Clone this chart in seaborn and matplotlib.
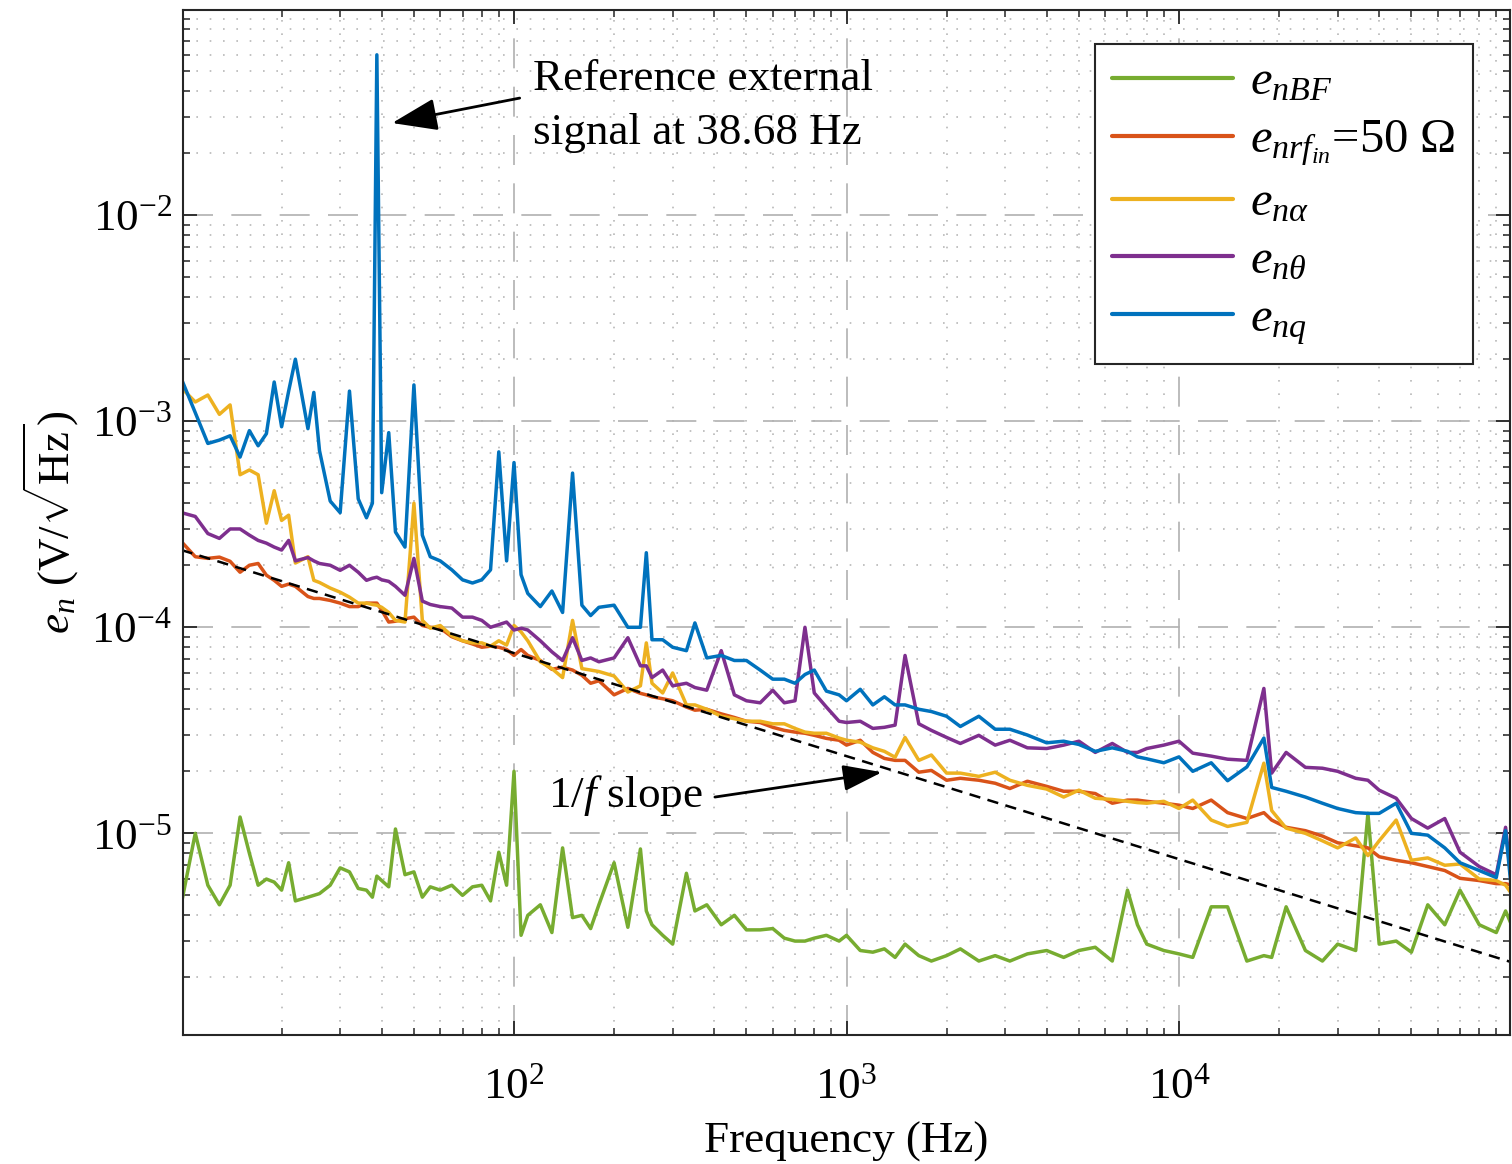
import numpy as np
import pandas as pd
import matplotlib
matplotlib.use('Agg')
import matplotlib.pyplot as plt
import seaborn as sns
from matplotlib.ticker import NullFormatter

# frequency grid (Hz)
freq = [10, 11, 12, 13, 14, 15, 16, 17, 18, 19,
        20, 21, 22, 24, 25, 26, 28, 30, 32, 34,
        36, 37.5, 38.68, 40, 42, 44, 47, 50, 53, 56,
        60, 65, 70, 75, 80, 85, 90, 95, 100, 105,
        110, 120, 130, 140, 150, 160, 170, 180, 200, 220,
        240, 250, 260, 280, 300, 330, 350, 380, 420, 460,
        500, 550, 600, 650, 700, 750, 800, 870, 950, 1000,
        1100, 1200, 1300, 1400, 1500, 1650, 1800, 2000, 2200, 2500,
        2800, 3100, 3500, 4000, 4500, 5000, 5600, 6300, 7000, 7500,
        8000, 9000, 10000, 11000, 12500, 14000, 16000, 18000, 19000, 21000,
        24000, 27000, 30000, 34000, 37000, 40000, 45000, 50000, 56000, 63000,
        70000, 80000, 90000, 96000, 100000]

# noise spectral densities (V/sqrt(Hz))
e_nBF = [4.6e-6, 1.0e-5, 5.6e-6, 4.5e-6, 5.6e-6, 1.2e-5, 8.0e-6, 5.6e-6, 6.0e-6, 5.8e-6,
         5.3e-6, 7.2e-6, 4.7e-6, 4.9e-6, 5.0e-6, 5.1e-6, 5.6e-6, 6.8e-6, 6.5e-6, 5.4e-6,
         5.3e-6, 4.9e-6, 6.2e-6, 5.9e-6, 5.5e-6, 1.05e-5, 6.3e-6, 6.5e-6, 4.9e-6, 5.5e-6,
         5.3e-6, 5.6e-6, 5.0e-6, 5.5e-6, 5.6e-6, 4.7e-6, 8.1e-6, 5.6e-6, 2.0e-5, 3.2e-6,
         4.0e-6, 4.5e-6, 3.3e-6, 8.5e-6, 3.9e-6, 4.0e-6, 3.45e-6, 4.5e-6, 7.2e-6, 3.5e-6,
         8.4e-6, 4.2e-6, 3.6e-6, 3.2e-6, 2.9e-6, 6.4e-6, 4.2e-6, 4.5e-6, 3.6e-6, 4.0e-6,
         3.4e-6, 3.4e-6, 3.45e-6, 3.1e-6, 3.0e-6, 3.0e-6, 3.1e-6, 3.2e-6, 3.0e-6, 3.2e-6,
         2.7e-6, 2.65e-6, 2.75e-6, 2.5e-6, 2.9e-6, 2.55e-6, 2.4e-6, 2.55e-6, 2.75e-6, 2.4e-6,
         2.55e-6, 2.4e-6, 2.6e-6, 2.7e-6, 2.5e-6, 2.7e-6, 2.8e-6, 2.4e-6, 5.3e-6, 3.6e-6,
         2.9e-6, 2.7e-6, 2.6e-6, 2.5e-6, 4.4e-6, 4.4e-6, 2.4e-6, 2.55e-6, 2.5e-6, 4.4e-6,
         2.7e-6, 2.4e-6, 2.9e-6, 2.7e-6, 1.25e-5, 2.9e-6, 3.0e-6, 2.65e-6, 4.5e-6, 3.6e-6,
         5.3e-6, 3.6e-6, 3.3e-6, 4.2e-6, 3.6e-6]

e_nrf = [2.6e-4, 2.2e-4, 2.16e-4, 2.19e-4, 2.09e-4, 1.85e-4, 2.0e-4, 2.04e-4, 1.79e-4, 1.69e-4,
         1.58e-4, 1.62e-4, 1.58e-4, 1.41e-4, 1.38e-4, 1.38e-4, 1.35e-4, 1.31e-4, 1.26e-4, 1.26e-4,
         1.31e-4, 1.31e-4, 1.31e-4, 1.21e-4, 1.06e-4, 1.07e-4, 1.1e-4, 1.12e-4, 1.02e-4, 1.0e-4,
         9.9e-5, 9.0e-5, 8.6e-5, 8.3e-5, 8.0e-5, 8.1e-5, 8.0e-5, 7.8e-5, 7.3e-5, 7.8e-5,
         7.3e-5, 6.9e-5, 6.25e-5, 6.4e-5, 6.2e-5, 5.85e-5, 5.35e-5, 5.5e-5, 4.7e-5, 5.05e-5,
         4.78e-5, 4.7e-5, 4.6e-5, 4.5e-5, 4.4e-5, 4.1e-5, 3.96e-5, 4.0e-5, 3.8e-5, 3.65e-5,
         3.5e-5, 3.45e-5, 3.27e-5, 3.16e-5, 3.1e-5, 3.06e-5, 2.99e-5, 2.89e-5, 2.83e-5, 2.68e-5,
         2.83e-5, 2.47e-5, 2.31e-5, 2.26e-5, 2.26e-5, 1.98e-5, 2.02e-5, 1.81e-5, 1.85e-5, 1.81e-5,
         1.75e-5, 1.65e-5, 1.79e-5, 1.69e-5, 1.6e-5, 1.6e-5, 1.56e-5, 1.4e-5, 1.45e-5, 1.45e-5,
         1.43e-5, 1.4e-5, 1.37e-5, 1.32e-5, 1.45e-5, 1.26e-5, 1.18e-5, 1.26e-5, 1.16e-5, 1.07e-5,
         1.03e-5, 9.7e-6, 9.0e-6, 8.7e-6, 8.5e-6, 7.7e-6, 7.4e-6, 7.2e-6, 6.9e-6, 6.6e-6,
         6.05e-6, 5.9e-6, 5.7e-6, 5.7e-6, 5.6e-6]

e_nalpha = [1.45e-3, 1.24e-3, 1.34e-3, 1.08e-3, 1.2e-3, 5.5e-4, 5.8e-4, 5.5e-4, 3.2e-4, 4.6e-4,
            3.3e-4, 3.5e-4, 2.05e-4, 2.2e-4, 1.69e-4, 1.65e-4, 1.55e-4, 1.48e-4, 1.4e-4, 1.31e-4,
            1.31e-4, 1.29e-4, 1.28e-4, 1.25e-4, 1.18e-4, 1.08e-4, 1.06e-4, 4.0e-4, 1.08e-4, 9.9e-5,
            1.02e-4, 9.1e-5, 8.6e-5, 8.4e-5, 8.4e-5, 8.1e-5, 8.6e-5, 8.2e-5, 1.02e-4, 9.5e-5,
            8.6e-5, 6.8e-5, 6.3e-5, 5.7e-5, 1.08e-4, 6.3e-5, 6.2e-5, 6.1e-5, 5.8e-5, 4.85e-5,
            5.2e-5, 8.4e-5, 5.35e-5, 4.8e-5, 6.0e-5, 4.2e-5, 4.2e-5, 4.0e-5, 3.7e-5, 3.6e-5,
            3.5e-5, 3.5e-5, 3.4e-5, 3.4e-5, 3.23e-5, 3.1e-5, 3.06e-5, 3.06e-5, 2.9e-5, 2.83e-5,
            2.77e-5, 2.6e-5, 2.5e-5, 2.34e-5, 2.92e-5, 2.26e-5, 2.4e-5, 1.96e-5, 1.96e-5, 1.89e-5,
            1.98e-5, 1.81e-5, 1.71e-5, 1.64e-5, 1.5e-5, 1.62e-5, 1.48e-5, 1.46e-5, 1.43e-5, 1.41e-5,
            1.4e-5, 1.43e-5, 1.32e-5, 1.45e-5, 1.16e-5, 1.08e-5, 1.13e-5, 2.19e-5, 1.29e-5, 1.06e-5,
            1.0e-5, 9.2e-6, 8.5e-6, 9.5e-6, 7.8e-6, 9.2e-6, 1.16e-5, 7.4e-6, 7.6e-6, 7.0e-6,
            7.1e-6, 6.0e-6, 5.9e-6, 5.6e-6, 5.1e-6]

e_ntheta = [3.6e-4, 3.45e-4, 2.85e-4, 2.7e-4, 3.0e-4, 3.0e-4, 2.8e-4, 2.64e-4, 2.56e-4, 2.45e-4,
            2.37e-4, 2.64e-4, 2.1e-4, 2.18e-4, 2.1e-4, 2.04e-4, 2.0e-4, 1.89e-4, 2.0e-4, 1.85e-4,
            1.69e-4, 1.73e-4, 1.75e-4, 1.7e-4, 1.67e-4, 1.58e-4, 1.43e-4, 2.16e-4, 1.34e-4, 1.29e-4,
            1.26e-4, 1.24e-4, 1.12e-4, 1.12e-4, 1.08e-4, 1.0e-4, 1.03e-4, 1.06e-4, 9.7e-5, 9.9e-5,
            9.7e-5, 8.6e-5, 7.6e-5, 6.9e-5, 8.9e-5, 6.9e-5, 7.1e-5, 6.8e-5, 7.1e-5, 8.9e-5,
            6.5e-5, 6.5e-5, 5.7e-5, 6.2e-5, 5.2e-5, 5.35e-5, 5.1e-5, 4.95e-5, 7.7e-5, 4.7e-5,
            4.4e-5, 4.3e-5, 4.95e-5, 4.3e-5, 4.4e-5, 1.0e-4, 4.8e-5, 4.1e-5, 3.5e-5, 3.45e-5,
            3.5e-5, 3.23e-5, 3.27e-5, 3.35e-5, 7.3e-5, 3.4e-5, 3.16e-5, 2.92e-5, 2.73e-5, 2.99e-5,
            2.68e-5, 2.83e-5, 2.6e-5, 2.58e-5, 2.68e-5, 2.8e-5, 2.47e-5, 2.73e-5, 2.47e-5, 2.47e-5,
            2.58e-5, 2.68e-5, 2.8e-5, 2.45e-5, 2.37e-5, 2.29e-5, 2.26e-5, 5.05e-5, 1.96e-5, 2.47e-5,
            2.09e-5, 2.07e-5, 2.0e-5, 1.85e-5, 1.81e-5, 1.62e-5, 1.48e-5, 1.18e-5, 1.06e-5, 1.18e-5,
            8.1e-6, 6.9e-6, 6.3e-6, 1.07e-5, 5.7e-6]

e_nq = [1.6e-3, 1.1e-3, 7.8e-4, 8.1e-4, 8.5e-4, 6.7e-4, 9.0e-4, 7.6e-4, 8.7e-4, 1.55e-3,
        9.4e-4, 1.4e-3, 2.0e-3, 9.2e-4, 1.38e-3, 7.2e-4, 4.1e-4, 3.6e-4, 1.4e-3, 4.2e-4,
        3.4e-4, 4.0e-4, 6.0e-2, 4.5e-4, 8.8e-4, 2.9e-4, 2.45e-4, 1.5e-3, 2.8e-4, 2.2e-4,
        2.1e-4, 1.9e-4, 1.7e-4, 1.64e-4, 1.7e-4, 1.9e-4, 7.1e-4, 2.1e-4, 6.3e-4, 1.8e-4,
        1.46e-4, 1.26e-4, 1.5e-4, 1.18e-4, 5.6e-4, 1.28e-4, 1.14e-4, 1.25e-4, 1.28e-4, 1.0e-4,
        1.0e-4, 2.3e-4, 8.7e-5, 8.7e-5, 8.0e-5, 7.7e-5, 1.05e-4, 7.1e-5, 7.3e-5, 6.9e-5,
        6.9e-5, 6.2e-5, 5.6e-5, 5.6e-5, 5.35e-5, 5.9e-5, 6.2e-5, 4.9e-5, 4.7e-5, 4.4e-5,
        5.0e-5, 4.2e-5, 4.6e-5, 4.2e-5, 4.2e-5, 4.0e-5, 3.9e-5, 3.7e-5, 3.3e-5, 3.7e-5,
        3.2e-5, 3.2e-5, 3.0e-5, 2.75e-5, 2.8e-5, 2.7e-5, 2.5e-5, 2.6e-5, 2.5e-5, 2.35e-5,
        2.3e-5, 2.2e-5, 2.35e-5, 2.0e-5, 2.2e-5, 1.8e-5, 2.1e-5, 2.9e-5, 1.67e-5, 1.6e-5,
        1.5e-5, 1.4e-5, 1.32e-5, 1.26e-5, 1.25e-5, 1.25e-5, 1.4e-5, 1.0e-5, 9.8e-6, 8.5e-6,
        7.2e-6, 6.6e-6, 6.1e-6, 1.03e-5, 5.3e-6]

# 1/f reference line end points
slope_f = [10, 1e5]
slope_v = [2.37e-4, 2.37e-6]

labels = [r'$e_{nBF}$', r'$e_{nrf_{in}}$=50 Ω', r'$e_{n\alpha}$', r'$e_{n\theta}$', r'$e_{nq}$']
colors = ['#77AC30', '#D95319', '#EDB120', '#7E2F8E', '#0072BD']
series = [e_nBF, e_nrf, e_nalpha, e_ntheta, e_nq]

df = pd.concat([pd.DataFrame({'f': freq, 'en': s, 'name': lab}) for s, lab in zip(series, labels)],
               ignore_index=True)

sns.set_style('ticks')
plt.rcParams['font.family'] = ['Liberation Serif', 'DejaVu Serif']
plt.rcParams['mathtext.fontset'] = 'custom'
plt.rcParams['mathtext.rm'] = 'Liberation Serif'
plt.rcParams['mathtext.it'] = 'Liberation Serif:italic'
plt.rcParams['mathtext.bf'] = 'Liberation Serif:bold'
plt.rcParams['axes.unicode_minus'] = False
plt.rcParams['text.color'] = 'black'
plt.rcParams['axes.labelcolor'] = 'black'
plt.rcParams['xtick.color'] = 'black'
plt.rcParams['ytick.color'] = 'black'

fs = 32.5
fig = plt.figure(figsize=(15.12, 11.64), dpi=100)
ax = fig.add_axes([0.121, 0.1108, 0.8777, 0.8806])

sns.lineplot(data=df, x='f', y='en', hue='name', hue_order=labels, palette=colors,
             estimator=None, sort=False, lw=2.5, legend=False, ax=ax)
ax.plot(slope_f, slope_v, color='k', lw=1.8, ls='--', dashes=(4.5, 3))

ax.set_xscale('log')
ax.set_yscale('log')
ax.set_xlim(10.1, 9.9e4)
ax.set_ylim(1.05e-6, 0.099)
ax.set_xticks([1e2, 1e3, 1e4])
ax.set_yticks([1e-5, 1e-4, 1e-3, 1e-2])
ax.xaxis.set_minor_formatter(NullFormatter())
ax.yaxis.set_minor_formatter(NullFormatter())

ax.grid(which='minor', ls=(0, (1, 7)), color='#b8b8b8', lw=1.2)
ax.grid(which='major', ls=(0, (18, 11)), color='#b0b0b0', lw=1.2)
ax.set_axisbelow(True)

ax.tick_params(which='both', direction='in', top=True, right=True, color='#262626',
               labelcolor='black', labelsize=fs)
ax.tick_params(which='major', length=10, width=1.3)
ax.tick_params(which='minor', length=5, width=1.1)
ax.tick_params(axis='y', pad=8)
ax.tick_params(axis='x', pad=23)
for sp in ax.spines.values():
    sp.set_color('#262626')
    sp.set_linewidth(1.5)

ax.set_xlabel('Frequency (Hz)', fontsize=fs, color='black')
ax.set_ylabel(r'$e_n$ (V/$\sqrt{\mathrm{Hz}}$)', fontsize=fs, color='black')
ax.xaxis.set_label_coords(0.5, -0.084)
ax.yaxis.set_label_coords(-0.077, 0.5)

# annotations
ax.text(114, 3.4e-2, 'Reference external\nsignal at 38.68 Hz', fontsize=fs,
        ha='left', va='center', linespacing=1.45, color='black')
ax.annotate('', xy=(43, 2.8e-2), xytext=(104, 3.7e-2),
            arrowprops=dict(arrowstyle='-|>,head_length=0.7,head_width=0.25', color='k',
                            lw=2, mutation_scale=40, shrinkA=0, shrinkB=0))
ax.text(370, 1.53e-5, r'$\mathit{1/f}$ slope', fontsize=fs, ha='right', va='center',
        color='black')
ax.annotate('', xy=(1279, 1.98e-5), xytext=(402, 1.5e-5),
            arrowprops=dict(arrowstyle='-|>,head_length=0.6,head_width=0.2', color='k',
                            lw=2, mutation_scale=40, shrinkA=0, shrinkB=0))

lfs = 35
handles = ax.get_lines()[:5]
leg = ax.legend(handles, labels, loc='upper right', bbox_to_anchor=(0.972, 0.967),
                borderaxespad=0, fontsize=lfs, handlelength=2.49, handletextpad=0.35,
                labelspacing=0.28, borderpad=0.35, fancybox=False, framealpha=1,
                edgecolor='#262626', labelcolor='black')
leg.get_frame().set_linewidth(1.5)
for h in leg.get_lines():
    h.set_linewidth(3)

fig.savefig('out.png', dpi=100)
